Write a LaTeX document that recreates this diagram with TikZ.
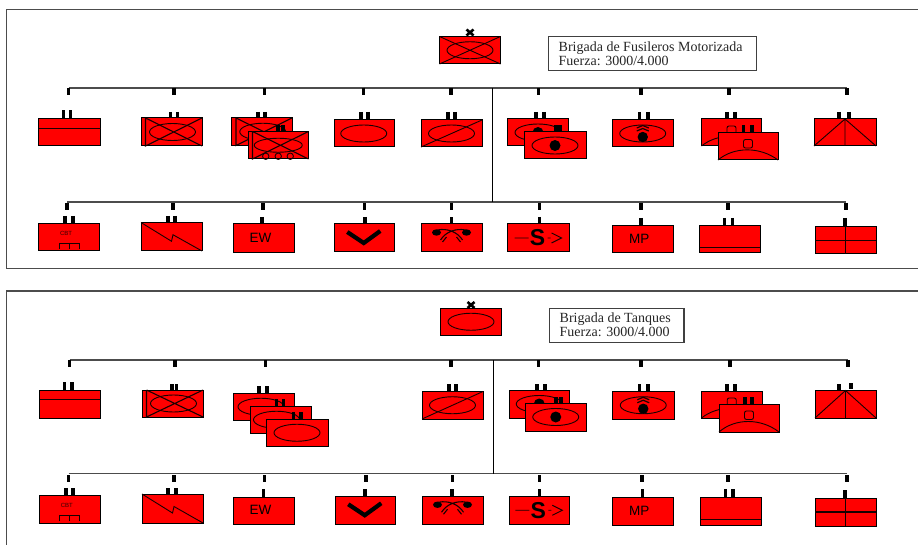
\documentclass[tikz,border=0pt]{standalone}
\usepackage{fontspec}
\setmainfont{Liberation Serif}
\setsansfont{Liberation Sans}
\tikzset{
  unitbox/.style={draw=black,fill=red,line width=1pt,inner sep=0pt,outer sep=0pt},
  sym/.style={draw=black!90!red,line width=.9pt},
  tick/.style={draw=black,line width=3.3pt},
  busline/.style={draw=black!70,line width=1.1pt},
  trunk/.style={draw=black,line width=.9pt},
  framebox/.style={draw=black!70,line width=1.1pt},
  infobox/.style={draw=black!75,line width=1.1pt,fill=white,inner sep=0pt,outer sep=0pt},
  infotext/.style={inner sep=0pt,align=left,anchor=west,text=black!85,font=\fontsize{14pt}{13.6pt}\selectfont},
  marktext/.style={inner sep=0pt,text=black,font=\sffamily\fontsize{13.5pt}{15pt}\selectfont},
}
\newcommand\unit[6]{%
  \pgfmathsetmacro\cx{(#2+#4)/2}\pgfmathsetmacro\cy{(#3+#5)/2}%
  \pgfmathsetmacro\hw{(#4-#2)/2}\pgfmathsetmacro\hh{(#5-#3)/2}%
  \def\unitname{#1}%
  \node[unitbox,minimum width=\hw*2pt,minimum height=\hh*2pt] (#1) at (\cx,\cy) {};
  \begin{scope}[shift={(\cx,\cy)}]#6\end{scope}%
}
\newcommand\up[3]{\foreach \tx in {#1}{\draw[tick] (\tx,#2) -- (\tx,#3);}}
% name, y, first x, last x, stub list, stub top, stub bottom
\newcommand\busrow[7]{%
  \coordinate (#1-a) at (#3,#2); \coordinate (#1-b) at (#4,#2);
  \draw[busline] (#1-a) -- (#1-b);
  \foreach \tx [count=\ti] in {#5}{%
    \coordinate (#1-s\ti) at (\tx,#6);
    \draw[tick] (#1-s\ti) -- ++(0,#7-#6);}%
}
\newcommand\sEll[1][0]{\draw[sym] (#1,0) ellipse[x radius=23pt,y radius=8.5pt];}
\newcommand\sX{\draw[sym] (-\hw,-\hh) -- (\hw,\hh) (-\hw,\hh) -- (\hw,-\hh);}
\newcommand\sMech{\draw[sym,line width=1.1pt] (-\hw+4.5,-\hh) -- (-\hw+4.5,\hh) -- (\hw,-\hh) (-\hw+4.5,-\hh) -- (\hw,\hh);}
\newcommand\sSlash{\draw[sym] (-\hw,\hh) -- (\hw,-\hh);}
\newcommand\sDot[1][0]{\fill[black] (#1,0) circle[radius=5.5pt];}
\newcommand\sTopLine{\draw[sym] (-\hw,-\hh+9) -- (\hw,-\hh+9);}
\newcommand\sArch{%
  \draw[sym] (-\hw,\hh) .. controls (-14,-\hh+14) and (12,-\hh+14) .. (\hw,\hh);
  \draw[sym,rounded corners=2pt] (-4.5,-\hh+15.5) rectangle (4.5,-\hh+7);}
\newcommand\sChev{%
  \draw[sym,line width=1.2pt] (-6,-2.5) -- (0,-5) -- (6,-2.5) (-6,-5.5) -- (0,-8) -- (6,-5.5);
  \fill[black] (0,3.5) circle[radius=5.2pt];}
\newcommand\sRoof{\draw[sym] (-\hw,\hh) -- (0,-\hh) -- (\hw,\hh) (0,-\hh) -- (0,\hh);}
\newcommand\sCBT{%
  \node[inner sep=0pt,text=black!80!red,font=\sffamily\fontsize{6pt}{7pt}\selectfont] (\unitname-t) at (-3,-3.5) {CBT};
  \draw[sym] (-10,\hh-2) -- (-10,\hh-8) -- (10,\hh-8) -- (10,\hh-2) (0,\hh-8) -- (0,\hh-2);}
\newcommand\sBolt{\draw[sym] (-\hw,-\hh) -- (0,4.5) -- (1.5,-2) -- (\hw,\hh);}
\newcommand\sText[2][-3.5]{\node[marktext] (\unitname-t) at (#1,-.5) {#2};}
\newcommand\sVee{\draw[black,line width=4.2pt] (-17,-6) -- (-.5,5) -- (16,-7);}
\newcommand\sAT{%
  \fill[black] (-15,-5.5) ellipse[x radius=4.5pt,y radius=3.2pt] (15,-5.5) ellipse[x radius=4.5pt,y radius=3.2pt];
  \draw[sym,line width=1.1pt] (-14,-8) .. controls (-4,-10) and (6,-6) .. (11,2)
    (14,-8) .. controls (4,-10) and (-6,-6) .. (-11,2);
  \draw[sym,line width=1.1pt] (-9,4) -- (-5,-1) (9,4) -- (5,-1);}
\newcommand\sS{%
  \draw[sym] (-24,0) -- (-10,0) (9,0) -- (12,0) (13,-5) -- (23,0) -- (13,5);
  \node[inner sep=0pt,text=black,font=\sffamily\bfseries\fontsize{23pt}{25pt}\selectfont] (\unitname-t) at (-1,0) {S};}
\newcommand\sBotLine{\draw[sym] (-\hw,\hh-5.5) -- (\hw,\hh-5.5);}
\newcommand\sCross{\draw[sym,line width=1.1pt] (-\hw,0) -- (\hw,0) (0,-\hh) -- (0,\hh);}
\newcommand\sXmark[2]{\draw[black,line width=2.6pt] (#1-3.5,#2-3) -- (#1+3.5,#2+3) (#1-3.5,#2+3) -- (#1+3.5,#2-3);}
\begin{document}
\begin{tikzpicture}[x=1pt,y=-1pt]
\useasboundingbox (0,0) rectangle (918,545);
\fill[white] (0,0) rectangle (918,545);
% ===== panel 1 =====
\draw[framebox] (918,9.5) -- (6.5,9.5) -- (6.5,268.5) -- (918,268.5);
\unit{top1}{439.5}{36.5}{500.5}{64}{\sEll\sX}
\sXmark{470}{32.5}
\node[infobox,minimum width=208pt,minimum height=34.5pt] (info1) at (652.5,53.7) {};
\node[infotext] (info1t) at (558.5,53.5) {Brigada de Fusileros Motorizada\\Fuerza: 3000/4.000};
\busrow{a}{88}{68.5}{847}{68.5,174,264.5,363.5,451,538.5,641,729,847}{88}{95}
\busrow{b}{202}{67}{846}{67,173,263,364.5,451.5,539.5,641,728,846}{203}{210}
\coordinate (ta) at (492.5,88); \coordinate (tb) at (492.5,202);
\draw[trunk] (ta) -- (tb);
% row 1
\up{63.5,70.5}{110.5}{118}
\unit{a1}{38.5}{119}{100.5}{146}{\sTopLine}
\up{170.5,177.5}{112}{118}
\unit{a2}{141}{118}{202}{146}{\sEll[1]\sMech}
\up{258,265}{112}{118}
\unit{a3}{231.5}{118}{292}{145.5}{\sEll[1]\sMech}
\up{278,283}{125}{131.5}
\unit{a3b}{248}{131.5}{308.5}{159}{\draw[sym] (0,0) ellipse[x radius=24pt,y radius=7pt];\sMech
  \draw[sym] (-12.5,11) circle[radius=3.2pt] (0,11) circle[radius=3.2pt] (12,11) circle[radius=3.2pt];}
\up{361,368}{112}{119.5}
\unit{a4}{334}{120}{394.5}{147}{\sEll[-.5]}
\up{448,455}{112}{119.5}
\unit{a5}{421}{120}{482}{147}{\sEll\sSlash}
\up{536,544}{112}{118.5}
\unit{a6}{507.5}{119}{568.5}{146}{\sEll\sDot}
\up{556,560}{125}{131.5}
\unit{a6b}{524}{132}{586}{159}{\sEll\sDot}
\up{639.5,648}{112}{119.5}
\unit{a7}{612.5}{120}{673}{147}{\sEll\sChev}
\up{727,735}{112}{118.5}
\unit{a8}{701.5}{119}{761.5}{146}{\sArch}
\up{743.5,752}{125}{132}
\unit{a8b}{718}{132.5}{778}{160}{\sArch}
\up{839,849}{112}{118.5}
\unit{a9}{814}{119}{876}{146}{\sRoof}
% row 2
\up{65,73}{216}{223}
\unit{b1}{38.5}{223.5}{99.5}{251}{\sCBT}
\up{168,175}{216}{222}
\unit{b2}{141}{222.5}{202}{251}{\sBolt}
\up{262}{217}{223.5}
\unit{b3}{233.5}{224}{294.5}{252.5}{\sText{EW}}
\up{365}{217}{223.5}
\unit{b4}{334}{224}{394.5}{252}{\sVee}
\up{451.5}{217.5}{223.5}
\unit{b5}{421}{224}{482}{252}{\sAT}
\up{539.5}{217}{223.5}
\unit{b6}{507.5}{224}{569.5}{252}{\sS}
\up{641}{218}{225.5}
\unit{b7}{612.5}{226}{673}{253}{\sText{MP}}
\up{724.5,732.5}{218}{225.5}
\unit{b8}{699.5}{226}{760}{253}{\sBotLine}
\up{845}{218}{226}
\unit{b9}{815}{226.5}{876}{254}{\sCross}
% ===== panel 2 =====
\draw[framebox] (918,291) -- (6.5,291) -- (6.5,545);
\unit{top2}{440.5}{308}{501.5}{335.5}{\sEll}
\sXmark{471}{305}
\node[infobox,minimum width=134.5pt,minimum height=34pt] (info2) at (616.7,325.5) {};
\node[infotext] (info2t) at (559.5,325) {Brigada de Tanques\\Fuerza: 3000/4.000};
\busrow{c}{360}{69.5}{848}{69.5,175,265.5,451,538.5,641,730,848}{360}{367}
\busrow{d}{473.5}{68.5}{847}{68.5,174,264.5,366,452.5,539.5,642,728,847}{475}{482}
\coordinate (tc) at (493.5,360); \coordinate (td) at (493.5,473.5);
\draw[trunk] (tc) -- (td);
% row 1
\up{64.5,72}{382}{389.5}
\unit{c1}{39.5}{390.5}{100.5}{418}{\sTopLine}
\up{172,176.5}{384}{390}
\unit{c2}{142}{390}{203}{417}{\sEll[1]\sMech}
\up{259,267}{386}{393}
\unit{c3}{233.5}{393}{294.5}{420.5}{\sEll[-3]}
\up{276.5,283.5}{399}{406}
\unit{c3b}{250}{406}{311}{433.5}{\sEll[-4]}
\up{293.5,301}{412}{419}
\unit{c3c}{266.5}{419}{328.5}{446.5}{\sEll[-.5]}
\up{449,456}{384}{391}
\unit{c5}{422}{391.5}{483}{419}{\sEll\sSlash}
\up{537,545}{384}{390}
\unit{c6}{509}{390}{569.5}{418}{\sEll\sDot}
\up{556,561}{397}{403}
\unit{c6b}{525.5}{403}{586}{431}{\sEll\sDot}
\up{639.5,648}{384}{391}
\unit{c7}{612.5}{391.5}{674}{419}{\sEll\sChev}
\up{727,735}{384}{390.5}
\unit{c8}{701.5}{391}{762}{418}{\sArch}
\up{745,752}{397}{404}
\unit{c8b}{719}{404}{779}{432}{\sArch}
\up{839}{384}{390}
\up{851}{383}{389}
\unit{c9}{815}{390.5}{876}{418}{\sRoof}
% row 2
\up{66,73}{488}{495}
\unit{d1}{39}{495}{100.5}{523}{\sCBT}
\up{168,176}{488}{494}
\unit{d2}{142}{494}{203}{523}{\sBolt}
\up{263.5}{489}{496.5}
\unit{d3}{233.5}{497}{294.5}{524.5}{\sText{EW}}
\up{365}{489}{496}
\unit{d4}{335}{496}{395.5}{524.5}{\sVee}
\up{452}{489}{496}
\unit{d5}{422}{496}{483}{524.5}{\sAT}
\up{539.5}{489}{496}
\unit{d6}{509}{496}{569.5}{524.5}{\sS}
\up{642.5}{489}{497}
\unit{d7}{612.5}{497.5}{673}{525}{\sText{MP}}
\up{725.5,733}{489}{497}
\unit{d8}{700.5}{497.5}{761}{525}{\sBotLine}
\up{845}{490}{497.5}
\unit{d9}{815}{498}{876}{526}{\sCross}
\end{tikzpicture}
\end{document}
